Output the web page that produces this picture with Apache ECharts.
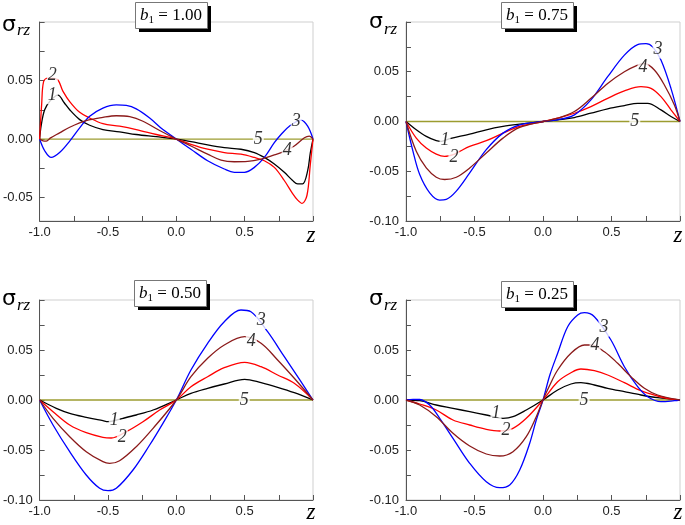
<!DOCTYPE html>
<html><head><meta charset="utf-8">
<script src="https://cdn.jsdelivr.net/npm/echarts@6/dist/echarts.min.js"></script>
<style>html,body{margin:0;padding:0;background:#fff}#c{width:685px;height:525px}</style>
</head><body><div id="c"></div><script>
// ---- data ----
var b1Values = ['1.00', '0.75', '0.50', '0.25'];
var xTickLabels = ['-1.0', '-0.5', '0.0', '0.5'];
var curveNames = ['1', '2', '3', '4', '5'];

// Panel 1: b1 = 1.00
var p1c1 = [[-1,0],[-0.988,0.012],[-0.963,0.025],[-0.92,0.033],[-0.866,0.0376],[-0.82,0.031],[-0.78,0.025],[-0.707,0.0166],[-0.634,0.0118],[-0.537,0.0081],[-0.415,0.0062],[-0.293,0.0039],[-0.146,0.002],[0,0],[0.107,-0.0022],[0.229,-0.005],[0.351,-0.0073],[0.473,-0.0087],[0.571,-0.0115],[0.644,-0.0157],[0.717,-0.0213],[0.79,-0.0284],[0.851,-0.0354],[0.888,-0.0382],[0.924,-0.0382],[0.961,-0.027],[0.98,-0.012],[1,0]];
var p1c2 = [[-1,0],[-0.985,0.03],[-0.971,0.049],[-0.94,0.052],[-0.873,0.051],[-0.83,0.041],[-0.78,0.032],[-0.707,0.0228],[-0.634,0.018],[-0.537,0.0132],[-0.415,0.011],[-0.293,0.0081],[-0.146,0.0039],[0,0],[0.107,-0.0045],[0.229,-0.0087],[0.351,-0.0115],[0.473,-0.0129],[0.571,-0.0157],[0.644,-0.0185],[0.717,-0.0242],[0.79,-0.0354],[0.851,-0.0466],[0.888,-0.0522],[0.92,-0.055],[0.956,-0.048],[0.98,-0.022],[1,0]];
var p1c3 = [[-1,0],[-0.963,-0.010],[-0.915,-0.0157],[-0.854,-0.0115],[-0.78,-0.0017],[-0.707,0.0096],[-0.634,0.0194],[-0.537,0.0264],[-0.439,0.0292],[-0.366,0.0287],[-0.293,0.0258],[-0.195,0.018],[-0.098,0.0081],[0,0],[0.107,-0.0087],[0.229,-0.0185],[0.351,-0.0256],[0.424,-0.0284],[0.498,-0.0284],[0.571,-0.0242],[0.644,-0.0157],[0.717,-0.0031],[0.766,0.0039],[0.827,0.011],[0.912,0.0162],[0.961,0.011],[1,0]];
var p1c4 = [[-1,0],[-0.975,-0.0015],[-0.951,-0.0017],[-0.92,0.001],[-0.854,0.0053],[-0.78,0.0101],[-0.659,0.0157],[-0.537,0.0185],[-0.439,0.0199],[-0.341,0.0191],[-0.244,0.0152],[-0.122,0.0073],[0,0],[0.107,-0.0059],[0.229,-0.0129],[0.327,-0.018],[0.424,-0.0194],[0.522,-0.0191],[0.62,-0.0171],[0.717,-0.0135],[0.79,-0.0105],[0.863,-0.0059],[0.937,0.0011],[0.973,0.0025],[1,0]];
var p1c5 = [[-1,0],[1,0]];
var p1Labels = [[-0.907,0.0375,'1'],[-0.907,0.0545,'2'],[0.877,0.0155,'3'],[0.811,-0.0099,'4'],[0.6,0,'5']];

// Panel 2: b1 = 0.75
var p2c1 = [[-1,0],[-0.925,-0.0083],[-0.852,-0.015],[-0.779,-0.0193],[-0.742,-0.02],[-0.681,-0.0173],[-0.535,-0.0127],[-0.414,-0.0083],[-0.292,-0.005],[-0.17,-0.0027],[0,0],[0.107,0.0017],[0.229,0.004],[0.35,0.0083],[0.472,0.0127],[0.594,0.016],[0.691,0.0183],[0.764,0.0183],[0.861,0.0117],[0.934,0.005],[1,0]];
var p2c2 = [[-1,0],[-0.925,-0.0167],[-0.852,-0.0267],[-0.779,-0.0327],[-0.718,-0.035],[-0.65,-0.033],[-0.608,-0.03],[-0.535,-0.025],[-0.414,-0.0193],[-0.292,-0.0117],[-0.17,-0.005],[0,0],[0.107,0.0033],[0.229,0.0083],[0.35,0.015],[0.472,0.0233],[0.594,0.0307],[0.715,0.035],[0.788,0.0333],[0.861,0.025],[0.934,0.0117],[1,0]];
var p2c3 = [[-1,0],[-0.949,-0.03],[-0.9,-0.0533],[-0.827,-0.0717],[-0.754,-0.079],[-0.706,-0.0783],[-0.633,-0.07],[-0.535,-0.0517],[-0.414,-0.0283],[-0.292,-0.0117],[-0.17,-0.0033],[0,0],[0.107,0.0017],[0.229,0.0067],[0.35,0.0217],[0.472,0.045],[0.594,0.0667],[0.691,0.0773],[0.752,0.0783],[0.8,0.075],[0.861,0.0617],[0.934,0.0333],[1,0]];
var p2c4 = [[-1,0],[-0.925,-0.03],[-0.852,-0.0467],[-0.779,-0.056],[-0.718,-0.0583],[-0.633,-0.056],[-0.535,-0.0467],[-0.414,-0.0317],[-0.292,-0.0167],[-0.17,-0.006],[0,0],[0.107,0.0033],[0.229,0.01],[0.35,0.0233],[0.472,0.0383],[0.594,0.05],[0.691,0.0567],[0.74,0.0583],[0.813,0.0517],[0.886,0.0367],[0.959,0.0167],[1,0]];
var p2c5 = [[-1,0],[1,0]];
var p2Labels = [[-0.715,-0.0187,'1'],[-0.65,-0.0357,'2'],[0.84,0.0723,'3'],[0.73,0.0543,'4'],[0.67,0,'5']];

// Panel 3: b1 = 0.50
var p3c1 = [[-1,0],[-0.878,-0.0083],[-0.78,-0.0133],[-0.659,-0.0173],[-0.537,-0.0207],[-0.5,-0.0217],[-0.39,-0.0183],[-0.293,-0.015],[-0.17,-0.01],[0,0],[0.107,0.0067],[0.229,0.0117],[0.351,0.016],[0.5,0.0207],[0.62,0.0173],[0.741,0.0127],[0.863,0.0073],[1,0]];
var p3c2 = [[-1,0],[-0.902,-0.0117],[-0.78,-0.025],[-0.659,-0.0327],[-0.537,-0.0373],[-0.476,-0.038],[-0.366,-0.0317],[-0.244,-0.0217],[-0.122,-0.01],[0,0],[0.107,0.0133],[0.229,0.0233],[0.351,0.0323],[0.5,0.0377],[0.62,0.0333],[0.741,0.025],[0.863,0.0167],[1,0]];
var p3c3 = [[-1,0],[-0.902,-0.025],[-0.78,-0.0517],[-0.659,-0.075],[-0.561,-0.0883],[-0.5,-0.0907],[-0.439,-0.0883],[-0.317,-0.07],[-0.195,-0.045],[-0.098,-0.0233],[0,0],[0.107,0.03],[0.229,0.0567],[0.351,0.0783],[0.473,0.09],[0.546,0.0883],[0.668,0.0683],[0.79,0.0433],[0.912,0.0183],[1,0]];
var p3c4 = [[-1,0],[-0.902,-0.0183],[-0.78,-0.0367],[-0.659,-0.0517],[-0.537,-0.0617],[-0.488,-0.0633],[-0.415,-0.0607],[-0.293,-0.0467],[-0.17,-0.0283],[0,0],[0.107,0.0233],[0.229,0.0417],[0.351,0.055],[0.5,0.0633],[0.62,0.0567],[0.741,0.04],[0.863,0.0217],[1,0]];
var p3c5 = [[-1,0],[1,0]];
var p3Labels = [[-0.454,-0.0207,'1'],[-0.395,-0.0377,'2'],[0.622,0.080,'3'],[0.549,0.059,'4'],[0.497,0,'5']];

// Panel 4: b1 = 0.25
var p4c1 = [[-1,0],[-0.9,-0.0007],[-0.779,-0.005],[-0.657,-0.0083],[-0.535,-0.0117],[-0.414,-0.015],[-0.292,-0.0183],[-0.219,-0.0167],[-0.122,-0.01],[0,0],[0.107,0.01],[0.204,0.016],[0.277,0.0173],[0.375,0.015],[0.472,0.0117],[0.594,0.0083],[0.715,0.005],[0.837,0.0023],[1,0]];
var p4c2 = [[-1,0],[-0.9,-0.004],[-0.779,-0.01],[-0.657,-0.02],[-0.535,-0.025],[-0.414,-0.0293],[-0.316,-0.031],[-0.219,-0.0283],[-0.122,-0.0183],[0,0],[0.107,0.0183],[0.204,0.0273],[0.277,0.031],[0.375,0.0293],[0.472,0.025],[0.594,0.0173],[0.715,0.0093],[0.837,0.004],[0.934,0.001],[1,0]];
var p4c3 = [[-1,0],[-0.949,0.0007],[-0.9,0.0005],[-0.827,-0.005],[-0.754,-0.0183],[-0.657,-0.0383],[-0.535,-0.0633],[-0.414,-0.0817],[-0.316,-0.0877],[-0.243,-0.085],[-0.17,-0.07],[-0.097,-0.0433],[-0.049,-0.02],[0,0],[0.05,0.025],[0.107,0.0467],[0.18,0.0733],[0.253,0.085],[0.302,0.0873],[0.375,0.0833],[0.496,0.06],[0.594,0.0333],[0.691,0.0133],[0.764,0.0033],[0.861,-0.0017],[0.959,-0.0007],[1,0]];
var p4c4 = [[-1,0],[-0.9,-0.005],[-0.779,-0.0167],[-0.657,-0.0333],[-0.535,-0.046],[-0.414,-0.054],[-0.316,-0.056],[-0.219,-0.0517],[-0.122,-0.0367],[-0.049,-0.0167],[0,0],[0.05,0.015],[0.107,0.03],[0.204,0.0467],[0.302,0.055],[0.35,0.055],[0.448,0.0483],[0.545,0.0367],[0.642,0.0233],[0.74,0.0117],[0.837,0.005],[1,0]];
var p4c5 = [[-1,0],[1,0]];
var p4Labels = [[-0.343,-0.0137,'1'],[-0.27,-0.0307,'2'],[0.445,0.0723,'3'],[0.38,0.0543,'4'],[0.3,0,'5']];

var panels = [
  {curves: [p1c1, p1c2, p1c3, p1c4, p1c5], labels: p1Labels, yMin: -0.07, yMax: 0.1},
  {curves: [p2c1, p2c2, p2c3, p2c4, p2c5], labels: p2Labels, yMin: -0.1, yMax: 0.1},
  {curves: [p3c1, p3c2, p3c3, p3c4, p3c5], labels: p3Labels, yMin: -0.1, yMax: 0.1},
  {curves: [p4c1, p4c2, p4c3, p4c4, p4c5], labels: p4Labels, yMin: -0.1, yMax: 0.1}
];

// ---- styling / layout ----
var colors = ['#000000', '#ff0000', '#0000ff', '#8b1a1a', '#9c9c30'];
var grids = [
  {left: 39, top: 22, width: 274, height: 199},
  {left: 406, top: 22, width: 274, height: 199},
  {left: 39, top: 300, width: 274, height: 200},
  {left: 406, top: 300, width: 274, height: 200}
];
var boxPos = [[135, 2], [501, 2], [134, 280], [501, 281]];
var sigmaPos = [[2, 25, 17, 31], [369, 22, 384, 30], [2, 299, 17, 306], [369, 299, 384, 306]];
var zPos = [[311, 236], [678, 236], [311, 513], [678, 513]];

function fmt2(v) { if (Math.abs(v) < 1e-9) v = 0; return v.toFixed(2); }

var option = {animation: false, backgroundColor: '#fff', grid: [], xAxis: [], yAxis: [], series: [], graphic: []};

panels.forEach(function (p, i) {
  option.grid.push(Object.assign({show: true, borderColor: '#cfcfcf', borderWidth: 1, containLabel: false}, grids[i]));
  option.xAxis.push({
    type: 'value', gridIndex: i, min: -1, max: 1, interval: 0.25,
    axisLine: {show: true, onZero: false, lineStyle: {color: '#555', width: 1}},
    axisTick: {show: true, inside: true, length: 5, lineStyle: {color: '#555'}},
    splitLine: {show: false},
    axisLabel: {
      color: '#222', fontSize: 13, fontFamily: 'Liberation Sans', margin: 5,
      formatter: function (v) {
        var s = (Math.abs(v) < 1e-9 ? 0 : v).toFixed(1);
        return xTickLabels.indexOf(s) >= 0 ? s : '';
      }
    }
  });
  var yTicks = [], yLabs = [];
  for (var k = -4; k <= 4; k++) {
    var t = Math.round(k * 25) / 1000;
    if (t >= p.yMin - 1e-9 && t <= p.yMax + 1e-9) {
      yTicks.push(t);
      if (k % 2 === 0 && t < 0.09) yLabs.push(t);
    }
  }
  option.yAxis.push({
    type: 'value', gridIndex: i, min: p.yMin, max: p.yMax,
    axisLine: {show: true, onZero: false, lineStyle: {color: '#555', width: 1}},
    axisTick: {show: true, inside: true, length: 5, customValues: yTicks, lineStyle: {color: '#555'}},
    splitLine: {show: false},
    axisLabel: {color: '#222', fontSize: 13, fontFamily: 'Liberation Sans', margin: 7, customValues: yLabs, formatter: fmt2}
  });
  p.curves.forEach(function (c, j) {
    option.series.push({
      type: 'line', xAxisIndex: i, yAxisIndex: i, data: c, name: curveNames[j],
      showSymbol: false, symbol: 'none', smooth: 0.35,
      lineStyle: {color: colors[j], width: 1.3}, z: 2 + (j === 4 ? 0 : 1)
    });
  });
  option.series.push({
    type: 'scatter', xAxisIndex: i, yAxisIndex: i, data: p.labels, symbolSize: 1,
    itemStyle: {color: 'rgba(0,0,0,0)'}, z: 10,
    label: {
      show: true, position: 'inside', formatter: function (d) { return d.data[2]; },
      fontFamily: 'Liberation Serif', fontStyle: 'italic', fontSize: 18, color: '#000',
      backgroundColor: '#fff', padding: [0, 1]
    }
  });
  // title box with shadow
  var bx = boxPos[i][0], by = boxPos[i][1];
  option.graphic.push({type: 'rect', left: bx + 4, top: by + 4, shape: {width: 72, height: 26}, style: {fill: '#000'}, z: 100});
  option.graphic.push({type: 'rect', left: bx, top: by, shape: {width: 72, height: 26}, style: {fill: '#fff', stroke: '#777', lineWidth: 1}, z: 101});
  option.graphic.push({
    type: 'text', x: bx + 36, y: by + 14, z: 102,
    style: {
      text: '{b|b}{s|1}{t| = ' + b1Values[i] + '}', align: 'center', verticalAlign: 'middle',
      rich: {
        b: {fontFamily: 'Liberation Serif', fontStyle: 'italic', fontSize: 17, fill: '#000'},
        s: {fontFamily: 'Liberation Serif', fontSize: 11, fill: '#000', padding: [8, 0, 0, 0]},
        t: {fontFamily: 'Liberation Serif', fontSize: 17, fill: '#000'}
      }
    }
  });
  // sigma_rz
  var sp = sigmaPos[i];
  option.graphic.push({type: 'text', x: sp[0], y: sp[1], z: 102,
    style: {text: 'σ', fontFamily: 'DejaVu Sans', fontSize: 22, fill: '#000', verticalAlign: 'middle'}});
  option.graphic.push({type: 'text', x: sp[2], y: sp[3], z: 102,
    style: {text: 'rz', fontFamily: 'Liberation Serif', fontStyle: 'italic', fontSize: 17, fill: '#000', verticalAlign: 'middle'}});
  // z axis name
  option.graphic.push({type: 'text', x: zPos[i][0], y: zPos[i][1], z: 102,
    style: {text: 'z', fontFamily: 'Liberation Serif', fontStyle: 'italic', fontSize: 23, fill: '#000', align: 'center', verticalAlign: 'middle'}});
});

var chart = echarts.init(document.getElementById('c'), null, {renderer: 'canvas'});
chart.setOption(option);
</script></body></html>
